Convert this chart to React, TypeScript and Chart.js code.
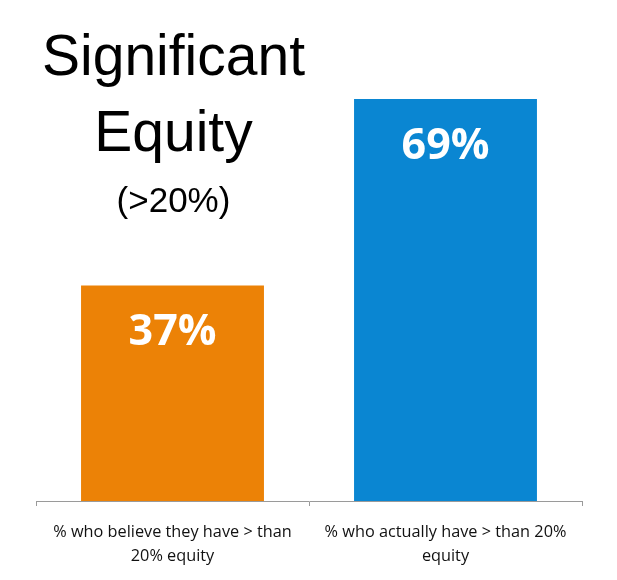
import React, { useEffect, useRef } from "react";
import { Chart, registerables } from "chart.js";

Chart.register(...registerables);

const categories: string[][] = [
  ["% who believe they have > than", "20% equity"],
  ["% who actually have > than 20%", "equity"],
];
const values: number[] = [37, 69];
const valueLabels: string[] = ["37%", "69%"];
const barColors: string[] = ["#EC8206", "#0A86D2"];
const titleLines: string[] = ["Significant", "Equity", "(>20%)"];

const titlePlugin = {
  id: "sideTitle",
  afterDraw(chart: any) {
    const ctx = chart.ctx;
    const xs = chart.scales.x;
    const cx = xs.getPixelForValue(0) + 1;
    ctx.save();
    ctx.fillStyle = "#000";
    ctx.textAlign = "center";
    ctx.textBaseline = "alphabetic";
    const fonts = ["57px 'Liberation Sans'", "57px 'Liberation Sans'", "35px 'Liberation Sans'"];
    const baselines = [67, 143, 204];
    titleLines.forEach((t, i) => {
      ctx.font = fonts[i];
      ctx.fillText(t, cx, baselines[i]);
    });
    ctx.restore();
  },
};

const valuePlugin = {
  id: "valueLabels",
  afterDatasetsDraw(chart: any) {
    const ctx = chart.ctx;
    const meta = chart.getDatasetMeta(0);
    ctx.save();
    ctx.fillStyle = "#fff";
    ctx.textAlign = "center";
    ctx.textBaseline = "alphabetic";
    ctx.font = "bold 43px 'Open Sans'";
    meta.data.forEach((bar: any, i: number) => {
      ctx.fillText(valueLabels[i], bar.x, bar.y + 60);
    });
    ctx.restore();
  },
};

export default function App() {
  const ref = useRef<HTMLCanvasElement | null>(null);
  useEffect(() => {
    if (!ref.current) return;
    const chart = new Chart(ref.current, {
      type: "bar",
      data: {
        labels: categories,
        datasets: [
          {
            data: values,
            backgroundColor: barColors,
            borderWidth: 0,
            barPercentage: 0.67,
            categoryPercentage: 1,
          },
        ],
      },
      options: {
        animation: false,
        responsive: true,
        maintainAspectRatio: false,
        layout: { padding: { top: 27, left: 28, right: 27, bottom: 0 } },
        plugins: {
          legend: { display: false },
          tooltip: { enabled: false },
          title: { display: false },
        },
        scales: {
          x: {
            afterFit(scale: any) {
              scale.height = 71;
            },
            grid: {
              display: true,
              drawOnChartArea: false,
              drawTicks: true,
              tickLength: 5,
              color: "#9a9a9a",
              offset: true,
            },
            border: { display: true, color: "#9a9a9a" },
            ticks: {
              color: "#111",
              padding: 14,
              maxRotation: 0,
              autoSkip: false,
              font: { family: "'Open Sans'", size: 16.3, lineHeight: 1.5 },
            },
          },
          y: {
            display: false,
            min: 0,
            max: 80,
          },
        },
      },
      plugins: [titlePlugin, valuePlugin],
    });
    return () => chart.destroy();
  }, []);
  return (
    <div style={{ width: "601px", height: "564px", position: "relative" }}>
      <canvas ref={ref} />
    </div>
  );
}
